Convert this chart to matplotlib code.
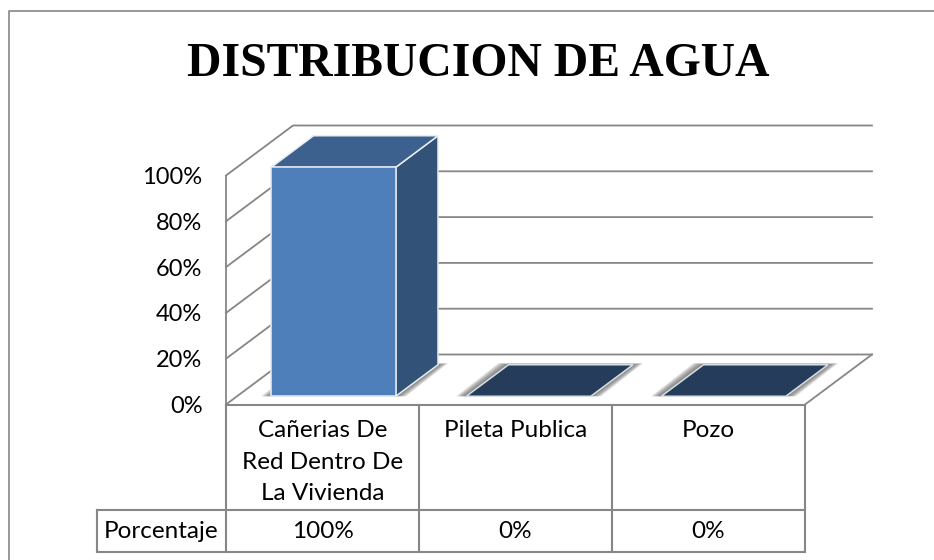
import matplotlib
matplotlib.use('Agg')
import matplotlib.pyplot as plt
from matplotlib.lines import Line2D
from matplotlib.patches import Polygon

categorias = ['Cañerias De\nRed Dentro De\nLa Vivienda', 'Pileta Publica', 'Pozo']
porcentaje = [100, 0, 0]
etiquetas = ['100%', '0%', '0%']
yticks = [0, 20, 40, 60, 80, 100]
ytick_labels = ['0%', '20%', '40%', '60%', '80%', '100%']
titulo = 'DISTRIBUCION DE AGUA'

W, H = 934, 560
gris = '#868686'

# profundidad del efecto 3D, en unidades de datos
DX = 67 / 193
DY = 50 / 2.29
BAR_W = 0.645
PASO = 195 / 193
D0, D1 = 0.165, 0.795


def proy(x, y, d):
    return (x + d * DX, y + d * DY)


plt.rcParams['font.family'] = ['Lato', 'DejaVu Sans']
fig = plt.figure(figsize=(W / 100, H / 100), dpi=100)

# marco exterior (solo arriba e izquierda se ven)
fig.add_artist(Line2D([8.5 / W, 8.5 / W, 1], [0, (H - 11) / H, (H - 11) / H], color=gris, lw=1.2))

ax = fig.add_axes([226 / W, (H - 404.5) / H, 579 / W, 229 / H])
ax.set_xlim(0, 3)
ax.set_ylim(0, 100)
ax.patch.set_visible(False)
for s in ax.spines.values():
    s.set_visible(False)
ax.set_xticks([])
ax.set_yticks(yticks)
ax.set_yticklabels(ytick_labels, fontsize=17, color='black')
ax.tick_params(axis='y', length=0, pad=17)

n = len(categorias)

# paredes y piso
for v in yticks:
    x0, y0 = proy(0, v, 0)
    x1, y1 = proy(0, v, 1)
    x2, y2 = proy(n, v, 1)
    ax.plot([x0, x1, x2], [y0, y1, y2], color=gris, lw=1.3, clip_on=False, zorder=1, solid_joinstyle='miter')
ax.plot([0, 0], [0, 100], color=gris, lw=1.3, clip_on=False, zorder=1)
x1, y1 = proy(n, 0, 1)
ax.plot([n, x1], [0, y1], color=gris, lw=1.3, clip_on=False, zorder=1)


def sombra(pts):
    # sombra difusa a los lados de la base
    for k in range(7, 0, -1):
        dx = 0.0075 * k
        dy = 0.1 * k
        q = [(pts[0][0] - dx, pts[0][1]), (pts[1][0] + dx, pts[1][1]),
             (pts[2][0] + dx, pts[2][1] + dy), (pts[3][0] - dx, pts[3][1] + dy)]
        ax.add_patch(Polygon(q, closed=True, fc='#606060', ec='none', alpha=0.18, clip_on=False, zorder=2))


# barras
for i, v in enumerate(porcentaje):
    x0 = i * PASO + (1 - BAR_W) / 2
    x1 = x0 + BAR_W
    base = [proy(x0, 0, D0), proy(x1, 0, D0), proy(x1, 0, D1), proy(x0, 0, D1)]
    sombra(base)
    tapa = [proy(x0, v, D0), proy(x1, v, D0), proy(x1, v, D1), proy(x0, v, D1)]
    if v > 0:
        frente = [proy(x0, 0, D0), proy(x1, 0, D0), proy(x1, v, D0), proy(x0, v, D0)]
        lado = [proy(x1, 0, D0), proy(x1, 0, D1), proy(x1, v, D1), proy(x1, v, D0)]
        ax.add_patch(Polygon(lado, closed=True, fc='#325278', ec='#e8edf3', lw=1.1, clip_on=False, zorder=3))
        ax.add_patch(Polygon(tapa, closed=True, fc='#3d618e', ec='#e8edf3', lw=1.1, clip_on=False, zorder=3))
        ax.add_patch(Polygon(frente, closed=True, fc='#4f7fbb', ec='#e8edf3', lw=1.1, clip_on=False, zorder=4))
    else:
        ax.add_patch(Polygon(tapa, closed=True, fc='#253c5b', ec='#d8dde3', lw=1.1, clip_on=False, zorder=3))

# tabla de datos
y_cat = -(510 - 404.5) / 2.29
y_fin = -(552 - 404.5) / 2.29
x_izq = -(226 - 97) / 193
for y in [0, y_cat, y_fin]:
    ax.plot([x_izq if y != 0 else 0, n], [y, y], color=gris, lw=1.5, clip_on=False, zorder=5)
for i in range(n + 1):
    ax.plot([i, i], [0, y_fin], color=gris, lw=1.5, clip_on=False, zorder=5)
ax.plot([x_izq, x_izq], [y_cat, y_fin], color=gris, lw=1.5, clip_on=False, zorder=5)

for i in range(n):
    ax.text(i + 0.5, -(420 - 404.5) / 2.29, categorias[i], ha='center', va='top', fontsize=17.5,
            linespacing=1.62, clip_on=False)
    ax.text(i + 0.5, (y_cat + y_fin) / 2, etiquetas[i], ha='center', va='center', fontsize=17.5, clip_on=False)
ax.text(x_izq / 2, (y_cat + y_fin) / 2, 'Porcentaje', ha='center', va='center', fontsize=17.5, clip_on=False)

fig.text(478.5 / W, (H - 64) / H, titulo, ha='center', va='center', fontsize=34.3,
         family='Liberation Serif', fontweight='bold', color='black')

fig.savefig('out.png', dpi=100)
